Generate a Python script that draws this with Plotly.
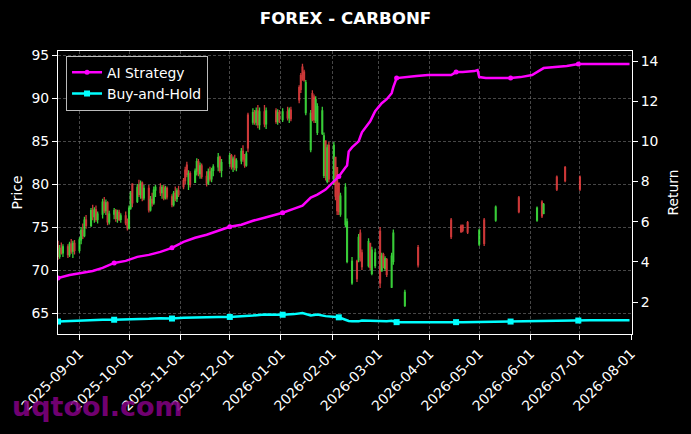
import plotly.graph_objects as go

# ---------------- data ----------------
candle_dates = [
    "2025-08-19", "2025-08-20", "2025-08-21", "2025-08-22",
    "2025-08-25", "2025-08-26", "2025-08-27", "2025-08-28", "2025-08-29",
    "2025-09-01", "2025-09-02", "2025-09-03", "2025-09-04", "2025-09-05",
    "2025-09-08", "2025-09-09", "2025-09-10", "2025-09-11", "2025-09-12",
    "2025-09-15", "2025-09-16", "2025-09-17", "2025-09-18", "2025-09-19",
    "2025-09-22", "2025-09-23", "2025-09-24", "2025-09-25", "2025-09-26",
    "2025-09-29", "2025-09-30", "2025-10-01", "2025-10-02", "2025-10-03",
    "2025-10-06", "2025-10-07", "2025-10-08", "2025-10-09", "2025-10-10",
    "2025-10-13", "2025-10-14", "2025-10-15", "2025-10-16", "2025-10-17",
    "2025-10-20", "2025-10-21", "2025-10-22", "2025-10-23", "2025-10-24",
    "2025-10-27", "2025-10-28", "2025-10-29", "2025-10-30", "2025-10-31",
    "2025-11-03", "2025-11-04", "2025-11-05", "2025-11-06", "2025-11-07",
    "2025-11-10", "2025-11-11", "2025-11-12", "2025-11-13", "2025-11-14",
    "2025-11-17", "2025-11-18", "2025-11-19", "2025-11-20", "2025-11-21",
    "2025-11-24", "2025-11-25", "2025-11-26",
    "2025-12-01", "2025-12-02", "2025-12-03", "2025-12-04", "2025-12-05",
    "2025-12-08", "2025-12-09", "2025-12-10", "2025-12-11", "2025-12-12",
    "2025-12-15", "2025-12-16", "2025-12-17", "2025-12-18", "2025-12-19",
    "2025-12-22", "2025-12-23",
    "2025-12-29", "2025-12-30", "2025-12-31", "2026-01-02",
    "2026-01-05", "2026-01-06", "2026-01-07",
    "2026-01-12", "2026-01-13", "2026-01-14", "2026-01-15", "2026-01-16",
    "2026-01-19", "2026-01-20", "2026-01-21", "2026-01-22", "2026-01-23",
    "2026-01-26", "2026-01-27", "2026-01-28", "2026-01-29", "2026-01-30",
    "2026-02-02", "2026-02-03", "2026-02-04", "2026-02-05", "2026-02-06",
    "2026-02-09", "2026-02-10", "2026-02-13",
    "2026-02-16", "2026-02-17", "2026-02-18", "2026-02-19",
    "2026-02-23", "2026-02-24", "2026-02-25", "2026-02-27",
    "2026-03-02", "2026-03-03", "2026-03-04", "2026-03-05", "2026-03-06",
    "2026-03-09", "2026-03-10",
    "2026-03-17", "2026-03-25",
    "2026-04-14", "2026-04-20", "2026-04-21", "2026-04-24",
    "2026-05-01", "2026-05-04", "2026-05-11", "2026-05-25",
    "2026-06-05", "2026-06-08", "2026-06-09", "2026-06-17", "2026-06-22",
    "2026-07-01",
]

opens = [
    72.8, 71.6, 72.5, 72.0,
    72.7, 71.8, 73.0, 72.2, 73.1,
    72.3, 73.5, 74.6, 74.0, 75.8,
    75.2, 76.9, 76.2, 77.0, 75.9,
    76.5, 77.9, 76.9, 77.8, 75.6,
    76.5, 76.9, 76.0, 76.7, 75.9,
    76.3, 75.5, 74.9, 77.2, 80.0,
    78.0, 79.8, 78.8, 80.1, 78.4,
    79.5, 77.0, 78.2, 77.8, 79.3,
    79.6, 79.0, 79.6, 78.4, 79.5,
    78.5, 77.6, 78.9, 78.3, 79.2,
    80.4, 81.6, 82.2, 80.0, 81.2,
    80.2, 81.5, 82.6, 81.2, 82.1,
    80.9, 80.1, 81.4, 80.6, 81.6,
    82.0, 83.1, 81.6,
    82.4, 83.3, 82.0, 82.9, 81.9,
    82.7, 83.8, 82.9, 82.2, 88.0,
    87.2, 88.3, 87.2, 88.5, 86.9,
    88.4, 87.0,
    88.5, 87.3, 88.3, 87.5,
    88.4, 87.7, 88.6,
    91.2, 92.6, 93.6, 93.0, 88.3,
    84.0, 90.5, 90.1, 87.4, 86.0,
    85.9, 81.0, 85.0, 80.3, 84.5,
    80.0, 83.1, 81.9, 80.1, 76.5,
    75.3, 71.0, 68.5,
    71.0, 71.2, 74.3, 72.0,
    70.5, 73.1, 69.6, 70.5,
    74.5, 69.9, 71.8, 70.2, 71.2,
    68.0, 71.0,
    65.9, 72.6,
    75.8, 75.1, 75.2, 75.5,
    73.0, 75.8, 75.8, 78.4,
    75.8, 77.9, 76.6, 80.8, 81.9,
    80.8,
]

highs = [
    73.4, 72.9, 73.2, 73.0,
    73.0, 73.3, 73.6, 73.4, 73.5,
    73.8, 75.0, 75.4, 76.2, 76.4,
    77.2, 77.6, 77.3, 77.5, 76.8,
    78.3, 78.5, 78.2, 78.0, 76.9,
    77.2, 77.1, 77.0, 77.0, 76.6,
    76.8, 76.0, 77.5, 79.2, 80.1,
    80.0, 80.5, 80.4, 80.3, 79.9,
    79.9, 78.6, 79.0, 79.7, 79.9,
    80.1, 79.9, 79.9, 79.8, 79.7,
    78.8, 79.2, 79.7, 79.5, 79.8,
    80.7, 82.0, 82.6, 81.6, 81.5,
    81.8, 83.0, 82.9, 82.5, 82.4,
    81.5, 81.8, 82.0, 81.9, 82.3,
    83.6, 83.3, 82.9,
    83.6, 83.5, 83.2, 83.4, 83.0,
    84.2, 84.5, 83.5, 83.8, 88.3,
    88.8, 88.6, 88.9, 89.2, 88.9,
    89.2, 88.9,
    88.8, 88.7, 88.6, 88.8,
    89.0, 88.9, 89.0,
    91.5, 92.9, 94.0, 93.3, 92.1,
    88.6, 90.9, 90.4, 90.2, 89.4,
    89.0, 86.0, 85.1, 84.6, 84.9,
    84.9, 83.1, 81.9, 80.1, 79.0,
    80.1, 76.0, 71.5,
    71.2, 74.2, 74.7, 72.4,
    73.7, 73.1, 72.7, 72.5,
    75.0, 72.0, 72.0, 71.6, 71.4,
    72.0, 74.7,
    67.7, 72.9,
    76.05, 75.3, 75.3, 75.7,
    74.8, 76.05, 77.5, 78.6,
    77.4, 78.1, 77.8, 81.0, 82.1,
    81.0,
]

lows = [
    71.2, 71.3, 71.8, 71.5,
    71.4, 71.5, 71.9, 71.4, 71.8,
    72.0, 73.0, 73.6, 73.8, 74.8,
    75.0, 75.8, 75.5, 75.6, 75.4,
    76.0, 76.6, 76.4, 75.2, 75.3,
    75.9, 75.6, 75.5, 75.7, 75.5,
    75.2, 74.6, 74.7, 77.0, 77.3,
    77.8, 78.5, 78.3, 78.0, 78.1,
    76.7, 76.8, 77.4, 77.6, 78.5,
    78.6, 78.3, 78.1, 78.2, 78.2,
    77.3, 77.4, 78.0, 77.9, 78.5,
    79.4, 80.0, 80.8, 79.3, 79.6,
    80.2, 81.0, 80.9, 80.6, 80.6,
    79.7, 79.9, 80.3, 80.2, 80.9,
    81.5, 81.3, 80.8,
    82.0, 81.7, 81.4, 81.6, 81.5,
    82.3, 82.6, 81.9, 82.0, 83.7,
    86.9, 86.9, 86.8, 86.5, 86.3,
    86.6, 86.4,
    87.0, 86.9, 87.1, 87.2,
    87.4, 87.1, 87.3,
    89.4, 90.6, 92.0, 91.9, 88.0,
    83.7, 87.3, 87.1, 87.1, 85.7,
    85.7, 80.7, 80.4, 80.1, 80.2,
    79.9, 78.1, 76.4, 76.4, 76.2,
    75.0, 70.8, 68.3,
    68.6, 70.9, 71.0, 70.0,
    70.3, 70.0, 69.4, 70.2,
    67.9, 69.8, 70.2, 69.9, 69.2,
    67.9, 70.6,
    65.7, 70.3,
    73.6, 74.3, 74.4, 74.2,
    72.8, 72.8, 75.6, 76.6,
    75.6, 76.05, 76.5, 79.2, 80.2,
    79.2,
]

closes = [
    71.6, 72.5, 72.0, 72.7,
    71.8, 73.0, 72.2, 73.1, 72.3,
    73.5, 74.6, 74.0, 75.8, 75.2,
    76.9, 76.2, 77.0, 75.9, 76.5,
    77.9, 76.9, 77.8, 75.6, 76.5,
    76.9, 76.0, 76.7, 75.9, 76.3,
    75.5, 74.9, 77.2, 78.9, 77.8,
    79.6, 78.8, 80.1, 78.4, 79.5,
    77.0, 78.2, 77.8, 79.3, 79.6,
    79.0, 79.6, 78.4, 79.5, 78.5,
    77.6, 78.9, 78.3, 79.2, 78.8,
    79.7, 80.4, 81.1, 81.2, 80.0,
    81.5, 82.6, 81.2, 82.1, 80.9,
    80.1, 81.4, 80.6, 81.6, 82.0,
    83.1, 81.6, 82.5,
    83.3, 82.0, 82.9, 81.9, 82.7,
    83.8, 82.9, 82.2, 83.5, 84.2,
    88.3, 87.2, 88.5, 86.9, 88.4,
    87.0, 88.5,
    87.3, 88.3, 87.5, 88.4,
    87.7, 88.6, 87.6,
    89.8, 91.0, 92.3, 92.1, 91.8,
    88.2, 87.6, 87.5, 89.8, 89.0,
    88.5, 85.6, 81.0, 84.2, 80.6,
    84.5, 78.6, 76.9, 76.8, 78.6,
    79.6, 75.6, 71.0,
    69.0, 73.8, 71.5, 70.4,
    73.3, 70.3, 72.3, 72.0,
    68.5, 71.6, 70.5, 71.3, 69.5,
    71.6, 74.3,
    67.4, 70.6,
    73.9, 74.5, 74.6, 74.4,
    74.6, 73.1, 77.3, 76.8,
    77.2, 76.3, 77.6, 79.4, 80.4,
    79.4,
]

line_dates = [
    "2025-08-19", "2025-08-26", "2025-09-02", "2025-09-09", "2025-09-15",
    "2025-09-22", "2025-09-29", "2025-10-06", "2025-10-13", "2025-10-20",
    "2025-10-27", "2025-11-03", "2025-11-10", "2025-11-17", "2025-11-24",
    "2025-12-01", "2025-12-08", "2025-12-15", "2025-12-22", "2025-12-29",
    "2026-01-02", "2026-01-09", "2026-01-14", "2026-01-19", "2026-01-23",
    "2026-01-28", "2026-02-02", "2026-02-05", "2026-02-09", "2026-02-10",
    "2026-02-11", "2026-02-13", "2026-02-17", "2026-02-19", "2026-02-24",
    "2026-02-27", "2026-03-03", "2026-03-06", "2026-03-09", "2026-03-10",
    "2026-03-12", "2026-03-17", "2026-03-24", "2026-03-31", "2026-04-07",
    "2026-04-14", "2026-04-17", "2026-04-21", "2026-04-28", "2026-04-30",
    "2026-05-01", "2026-05-05", "2026-05-12", "2026-05-20", "2026-05-26",
    "2026-06-02", "2026-06-09", "2026-06-16", "2026-06-23", "2026-06-30",
    "2026-07-07", "2026-07-14", "2026-07-21", "2026-07-31",
]

ai_strategy = [
    3.2, 3.35, 3.45, 3.55, 3.7,
    3.95, 4.05, 4.25, 4.35, 4.5,
    4.7, 5.0, 5.2, 5.35, 5.55,
    5.75, 5.85, 6.05, 6.2, 6.35,
    6.45, 6.65, 6.8, 7.2, 7.35,
    7.6, 8.0, 8.25, 8.7, 8.8,
    9.5, 9.7, 10.0, 10.45, 11.0,
    11.5, 11.9, 12.1, 12.4, 12.7,
    13.15, 13.2, 13.25, 13.3, 13.3,
    13.3, 13.45, 13.45, 13.5, 13.55,
    13.2, 13.15, 13.15, 13.15, 13.2,
    13.3, 13.65, 13.7, 13.75, 13.85,
    13.85, 13.85, 13.85, 13.85,
]

buy_and_hold = [
    1.03, 1.06, 1.08, 1.10, 1.12,
    1.12, 1.13, 1.17, 1.17, 1.20,
    1.18, 1.22, 1.24, 1.24, 1.26,
    1.26, 1.28, 1.33, 1.38, 1.37,
    1.37, 1.40, 1.45, 1.33, 1.38,
    1.30, 1.27, 1.24, 1.12, 1.08,
    1.06, 1.05, 1.04, 1.08, 1.07,
    1.05, 1.06, 1.05, 1.07, 1.05,
    1.00, 0.99, 1.00, 1.00, 0.99,
    1.00, 1.00, 1.00, 1.01, 1.02,
    1.03, 1.02, 1.02, 1.03, 1.04,
    1.05, 1.05, 1.06, 1.07, 1.08,
    1.09, 1.09, 1.10, 1.10,
]

marker_dates = [
    "2025-08-19", "2025-09-22", "2025-10-27", "2025-12-01", "2026-01-02",
    "2026-02-05", "2026-03-12", "2026-04-17", "2026-05-20", "2026-06-30",
]

month_ticks = [
    "2025-09-01", "2025-10-01", "2025-11-01", "2025-12-01", "2026-01-01",
    "2026-02-01", "2026-03-01", "2026-04-01", "2026-05-01", "2026-06-01",
    "2026-07-01", "2026-08-01",
]

price_ticks = [65, 70, 75, 80, 85, 90, 95]
return_ticks = [2, 4, 6, 8, 10, 12, 14]

# ---------------- figure ----------------
FONT = "DejaVu Sans"
MAGENTA = "#ff00ff"
CYAN = "#00ffff"

marker_idx = [line_dates.index(d) for d in marker_dates]

fig = go.Figure()

fig.add_trace(go.Candlestick(
    x=candle_dates, open=opens, high=highs, low=lows, close=closes,
    increasing=dict(line=dict(color="rgb(70,255,70)", width=1.3), fillcolor="rgb(70,255,70)"),
    decreasing=dict(line=dict(color="rgb(255,70,70)", width=1.3), fillcolor="rgb(255,70,70)"),
    opacity=0.8, showlegend=False, hoverinfo="skip",
    xaxis="x", yaxis="y",
))

fig.add_trace(go.Scatter(
    x=line_dates, y=ai_strategy, mode="lines",
    line=dict(color=MAGENTA, width=2.5), showlegend=False,
    xaxis="x", yaxis="y2",
))
fig.add_trace(go.Scatter(
    x=[line_dates[i] for i in marker_idx], y=[ai_strategy[i] for i in marker_idx],
    mode="markers", marker=dict(color=MAGENTA, size=5, symbol="circle"),
    showlegend=False, xaxis="x", yaxis="y2",
))
fig.add_trace(go.Scatter(
    x=line_dates, y=buy_and_hold, mode="lines",
    line=dict(color=CYAN, width=2.5), showlegend=False,
    xaxis="x", yaxis="y2",
))
fig.add_trace(go.Scatter(
    x=[line_dates[i] for i in marker_idx], y=[buy_and_hold[i] for i in marker_idx],
    mode="markers", marker=dict(color=CYAN, size=6, symbol="square"),
    showlegend=False, xaxis="x", yaxis="y2",
))

# legend entries
fig.add_trace(go.Scatter(
    x=[None], y=[None], mode="lines+markers", name="AI Strategy",
    line=dict(color=MAGENTA, width=2.5), marker=dict(color=MAGENTA, size=5, symbol="circle"),
    xaxis="x", yaxis="y2",
))
fig.add_trace(go.Scatter(
    x=[None], y=[None], mode="lines+markers", name="Buy-and-Hold",
    line=dict(color=CYAN, width=2.5), marker=dict(color=CYAN, size=6, symbol="square"),
    xaxis="x", yaxis="y2",
))

grid = dict(showgrid=True, gridcolor="rgba(128,128,128,0.55)", gridwidth=0.8, griddash="3px,2px")
axis_common = dict(
    showline=True, linecolor="white", linewidth=1,
    ticks="outside", ticklen=5, tickwidth=1, tickcolor="white",
    tickfont=dict(family=FONT, size=13.9, color="white"),
    zeroline=False, automargin=False,
)

fig.update_layout(
    width=691, height=434,
    margin=dict(l=58, r=59, t=51, b=100),
    paper_bgcolor="black", plot_bgcolor="black",
    font=dict(family=FONT, color="white"),
    title=dict(text="<b>FOREX - CARBONF</b>", x=0.5, xanchor="center",
               y=1 - 18 / 434, yanchor="middle",
               font=dict(family=FONT, size=16.7, color="white")),
    xaxis=dict(
        type="date", range=["2025-08-19", "2026-08-01 12:00"],
        tickmode="array", tickvals=month_ticks, ticktext=month_ticks,
        tickangle=-45, mirror=True, rangeslider=dict(visible=False),
        **grid, **axis_common,
    ),
    yaxis=dict(
        range=[62.56, 95.47], tickmode="array", tickvals=price_ticks,
        title=dict(text="Price", font=dict(family=FONT, size=13.9, color="white"), standoff=5),
        mirror=True, **grid, **axis_common,
    ),
    yaxis2=dict(
        range=[0.41, 14.5], overlaying="y", side="right", anchor="x",
        tickmode="array", tickvals=return_ticks, showgrid=False,
        title=dict(text="Return", font=dict(family=FONT, size=13.9, color="white"), standoff=10),
        **axis_common,
    ),
    legend=dict(
        x=0.014, y=0.983, xanchor="left", yanchor="top",
        bgcolor="black", bordercolor="rgba(220,220,220,0.85)", borderwidth=1,
        font=dict(family=FONT, size=13.9, color="white"),
    ),
    showlegend=True,
    annotations=[dict(
        text="<b>uqtool.com</b>", xref="paper", yref="paper",
        x=(10 - 58) / 574, y=(334 - 406) / 283, xanchor="left", yanchor="middle",
        showarrow=False, font=dict(family=FONT, size=27, color="rgba(128,0,128,0.9)"),
    )],
)

fig.write_html(
    "out.html",
    config={"displayModeBar": False},
    post_script="document.body.style.margin='0';document.body.style.overflow='hidden';",
)
